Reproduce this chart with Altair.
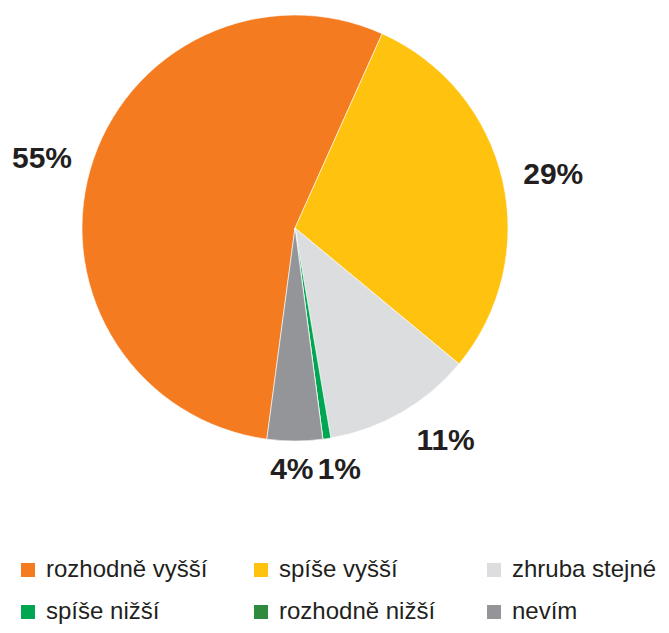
import math
import altair as alt
import pandas as pd

categories = ["rozhodně vyšší", "spíše vyšší", "zhruba stejné", "spíše nižší", "rozhodně nižší", "nevím"]
values = [54.6, 29.3, 11.3, 0.6, 0.0, 4.2]
labels = ["55%", "29%", "11%", "1%", "", "4%"]
colors = ["#F47B20", "#FFC20E", "#DCDDDE", "#00A651", "#2E8B3E", "#939598"]

df = pd.DataFrame({"cat": categories, "value": values, "label": labels,
                   "order": list(range(len(categories)))})

start = math.radians(187.6)
theta = alt.Theta("value:Q", stack=True, scale=alt.Scale(range=[start, start + 2 * math.pi]))
cx, cy = 287, 220

base = alt.Chart(df).encode(theta=theta, order=alt.Order("order:Q"),
                            x=alt.value(cx), y=alt.value(cy))

pie = base.mark_arc(outerRadius=213, stroke="white", strokeWidth=0.6).encode(
    color=alt.Color("cat:N", sort=categories,
                    scale=alt.Scale(domain=categories, range=colors),
                    legend=alt.Legend(title=None, orient="none", legendX=8, legendY=550,
                                      direction="horizontal", columns=3, gridAlign="all",
                                      columnPadding=41, rowPadding=18,
                                      symbolType="square", symbolSize=196,
                                      symbolStrokeWidth=0, labelOffset=6,
                                      labelFontSize=24, labelFont="Liberation Sans",
                                      labelColor="#231F20", labelLimit=400))
)

txt_style = dict(font="Liberation Sans", fontSize=30, fontWeight="bold", color="#231F20")

# label placement style per category: (radius, dx, dy)
placement = {
    "rozhodně vyšší": (261, -2, 2),
    "spíše vyšší": (261, 4, 6),
    "zhruba stejné": (261, 20, -13),
    "spíše nižší": (243, 8, 2),
    "nevím": (242, -3, 0),
}

layers = [pie]
for cat, (r, dx, dy) in placement.items():
    layers.append(
        base.mark_text(radius=r, dx=dx, dy=dy, **txt_style).encode(
            text=alt.condition(f"datum.cat == '{cat}'", "label:N", alt.value(""))
        )
    )

chart = alt.layer(*layers).properties(
    width=653, height=617, padding=0, autosize=alt.AutoSizeParams(type="none")
).configure_view(stroke=None)

chart.save("out.html", embed_options={"renderer": "svg", "actions": False})
